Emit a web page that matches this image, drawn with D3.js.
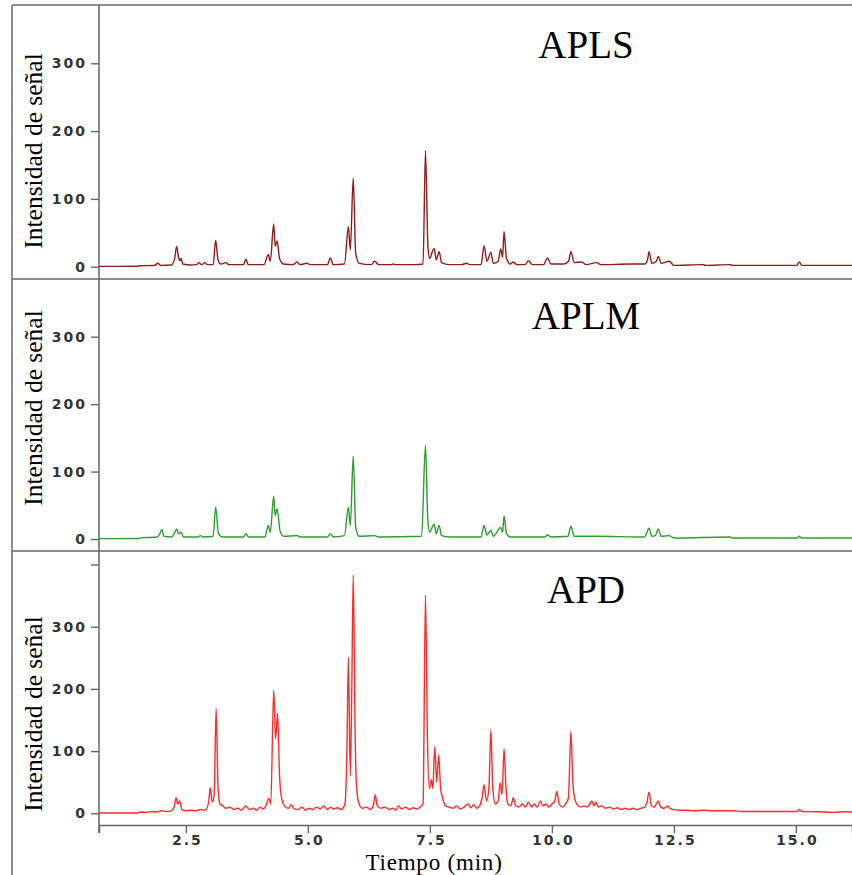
<!DOCTYPE html>
<html>
<head>
<meta charset="utf-8">
<script src="https://cdn.jsdelivr.net/npm/d3@7"></script>
<style>
  html, body { margin: 0; padding: 0; background: #fff; }
  svg { display: block; }
  .tick text { font-family: "DejaVu Sans", sans-serif; font-weight: bold; font-size: 14px; fill: #333; letter-spacing: 2px; }
  .tick line { stroke: #666; stroke-width: 1.4; }
</style>
</head>
<body>
<svg id="chart" width="852" height="875"></svg>
<script>
// Retention-time ticks (min) and intensity ticks
const timeTicks = [2.5, 5.0, 7.5, 10.0, 12.5, 15.0];
const intensityTicks = [0, 100, 200, 300];
const intensityTicksApd = [0, 100, 200, 300, 400];
const sampleNames = ["APLS", "APLM", "APD"];

// Chromatogram traces: [time (min), signal intensity]
const aplsTrace = [
  [0.72,0.5],[1.50,0.6],[1.56,1.5],[1.85,1.8],[1.93,5],[1.98,2],[2.20,2.5],[2.27,12],[2.31,30],[2.35,14],
  [2.38,9],[2.40,12],[2.44,4],[2.60,2.5],[2.72,3],[2.77,6],[2.82,3],[2.89,6],[2.94,3],[3.06,3],
  [3.11,39],[3.16,10],[3.22,4],[3.32,6],[3.38,3],[3.68,3],[3.73,11],[3.78,3],[4.10,3],[4.19,18],
  [4.23,8],[4.30,63],[4.33,30],[4.37,38],[4.42,12],[4.50,4],[4.70,3],[4.78,7],[4.84,3],[4.98,5],
  [5.05,3],[5.40,3],[5.46,13],[5.52,3],[5.75,4],[5.83,59],[5.87,25],[5.93,131],[5.98,20],[6.05,5],
  [6.30,3],[6.37,8],[6.45,3],[6.70,3],[6.75,4],[6.80,3],[7.00,3],[7.20,3],[7.36,4],[7.41,171],
  [7.46,30],[7.50,12],[7.54,20],[7.59,27],[7.63,10],[7.69,22],[7.74,6],[7.90,3],[8.15,3],[8.25,5],
  [8.32,3],[8.55,3],[8.61,31],[8.67,8],[8.75,21],[8.80,5],[8.90,8],[8.95,26],[8.99,14],[9.02,52],
  [9.07,12],[9.15,4],[9.21,7],[9.28,3],[9.45,3],[9.52,9],[9.60,3],[9.83,3],[9.91,13],[9.98,4],
  [10.25,4],[10.34,8],[10.39,22],[10.46,6],[10.61,7],[10.70,3],[10.92,6],[11.00,3],[11.60,4],[11.90,4],
  [11.96,10],[11.99,22],[12.05,5],[12.14,8],[12.18,15],[12.24,5],[12.40,8],[12.50,2],[13.10,3],[13.15,2],
  [13.65,3],[13.70,2],[14.90,2],[15.02,2],[15.07,7],[15.12,2],[16.15,2]
];

const aplmTrace = [
  [0.72,0.5],[1.55,0.8],[1.60,2],[1.90,2.5],[1.96,7],[2.01,14],[2.05,4],[2.20,3],[2.27,9],[2.31,15],
  [2.35,8],[2.40,10],[2.45,3],[2.75,3],[2.80,5],[2.85,3],[3.06,4],[3.11,47],[3.17,8],[3.25,3],
  [3.68,3],[3.73,8],[3.78,3],[4.12,3],[4.19,20],[4.23,10],[4.30,64],[4.33,35],[4.37,45],[4.43,12],
  [4.50,4],[4.78,5],[4.85,3],[5.40,3],[5.46,8],[5.52,3],[5.75,5],[5.83,47],[5.87,20],[5.93,123],
  [5.98,18],[6.05,4],[6.37,5],[6.45,3],[7.33,4],[7.41,139],[7.46,25],[7.50,10],[7.55,18],[7.59,22],
  [7.63,8],[7.69,20],[7.74,5],[7.90,3],[8.55,3],[8.61,20],[8.67,6],[8.75,13],[8.80,4],[8.95,17],
  [8.99,10],[9.02,34],[9.07,8],[9.15,3],[9.85,3],[9.91,6],[9.98,3],[10.33,4],[10.39,19],[10.46,4],
  [10.90,4],[11.90,3],[11.99,16],[12.05,4],[12.12,5],[12.18,15],[12.24,4],[12.40,5],[12.50,1.5],[13.65,3],
  [13.70,1.5],[15.02,1.5],[15.07,4],[15.12,1.5],[16.15,1.5]
];

const apdTrace = [
  [0.72,0.5],[1.50,0.5],[1.56,2],[1.70,1.5],[1.80,3],[1.90,2],[2.00,4],[2.10,3],[2.20,4],[2.26,10],
  [2.30,25],[2.33,15],[2.37,20],[2.42,6],[2.50,4],[2.60,5],[2.70,4],[2.80,6],[2.90,5],[2.97,20],
  [3.00,41],[3.04,18],[3.08,30],[3.12,168],[3.16,40],[3.20,15],[3.26,12],[3.32,8],[3.40,10],[3.48,6],
  [3.56,8],[3.64,5],[3.73,12],[3.80,6],[3.88,8],[3.95,5],[4.02,10],[4.08,7],[4.14,12],[4.20,24],
  [4.24,15],[4.30,198],[4.34,120],[4.38,161],[4.42,60],[4.46,25],[4.52,12],[4.60,8],[4.66,14],[4.72,7],
  [4.80,6],[4.88,10],[4.95,5],[5.02,8],[5.10,6],[5.18,10],[5.25,7],[5.32,12],[5.40,6],[5.46,10],
  [5.52,7],[5.60,9],[5.68,6],[5.76,15],[5.80,100],[5.83,251],[5.87,60],[5.90,200],[5.93,383],[5.97,120],
  [6.00,40],[6.05,15],[6.12,8],[6.20,10],[6.28,6],[6.34,12],[6.38,30],[6.42,12],[6.50,8],[6.58,10],
  [6.66,6],[6.74,8],[6.80,5],[6.86,12],[6.92,7],[7.00,10],[7.08,6],[7.16,9],[7.24,7],[7.30,10],
  [7.36,15],[7.41,351],[7.45,120],[7.49,40],[7.53,54],[7.56,40],[7.60,107],[7.64,50],[7.68,94],[7.72,40],
  [7.76,25],[7.82,12],[7.90,10],[7.98,8],[8.05,12],[8.12,7],[8.20,10],[8.28,15],[8.34,9],[8.40,14],
  [8.46,8],[8.52,12],[8.57,25],[8.61,46],[8.66,20],[8.71,40],[8.75,134],[8.79,40],[8.84,15],[8.90,20],
  [8.94,49],[8.98,30],[9.02,104],[9.06,40],[9.10,15],[9.16,12],[9.21,25],[9.26,12],[9.32,10],[9.40,15],
  [9.46,10],[9.52,18],[9.58,10],[9.64,15],[9.70,10],[9.76,20],[9.82,12],[9.88,15],[9.94,10],[10.00,15],
  [10.06,20],[10.10,35],[10.15,15],[10.22,10],[10.28,15],[10.34,25],[10.39,132],[10.43,50],[10.48,20],[10.54,12],
  [10.60,10],[10.66,12],[10.72,10],[10.78,15],[10.82,20],[10.86,12],[10.90,18],[10.95,10],[11.02,12],[11.10,8],
  [11.18,10],[11.26,7],[11.34,9],[11.42,6],[11.50,8],[11.58,6],[11.66,8],[11.74,6],[11.82,8],[11.90,10],
  [11.95,18],[11.99,34],[12.04,12],[12.10,10],[12.14,15],[12.18,20],[12.23,10],[12.30,8],[12.38,12],[12.42,8],
  [12.50,6],[12.60,5],[12.75,5],[12.90,4],[13.10,5],[13.30,4],[13.50,4],[13.70,4],[13.90,3],[14.10,3],
  [14.30,3],[14.50,3],[14.70,3],[14.90,3],[15.02,3],[15.07,6],[15.12,3],[15.40,2.5],[15.60,2],[15.80,1.5],
  [16.00,2.5],[16.15,2]
];

const svg = d3.select("#chart");
const frameColor = "#666";

// Shared retention-time axis
const x = d3.scaleLinear().domain([0.72, 16.15]).range([99, 852]);

// Stacked panels: top/bottom edges and intensity scale placement
const panels = [
  { name: sampleNames[0], trace: aplsTrace, color: "#8e1c1c", y0: 266.7, y300: 63.3, ticks: intensityTicks,
    top: 5, bottom: 279, titleY: 58, labelY: 151 },
  { name: sampleNames[1], trace: aplmTrace, color: "#2f9a2f", y0: 539, y300: 336.7, ticks: intensityTicks,
    top: 279, bottom: 551, titleY: 329, labelY: 408 },
  { name: sampleNames[2], trace: apdTrace, color: "#ff2a2a", y0: 813.3, y300: 626.7, ticks: intensityTicksApd,
    top: 551, bottom: 825, titleY: 603, labelY: 714 }
];

panels.forEach((p, i) => {
  const y = d3.scaleLinear().domain([0, 300]).range([p.y0, p.y300]);

  const clipId = "clip" + i;
  svg.append("clipPath").attr("id", clipId)
    .append("rect").attr("x", 99).attr("y", p.top).attr("width", 753).attr("height", p.bottom - p.top);

  // Intensity axis (the vertical spine is drawn once for all panels)
  const yAxis = d3.axisLeft(y).tickValues(p.ticks).tickSize(8).tickPadding(6)
    .tickFormat(d => d === 400 ? "" : d3.format("d")(d));
  const g = svg.append("g").attr("transform", "translate(99,0)").call(yAxis);
  g.select(".domain").remove();
  g.selectAll(".tick text").attr("dx", "2px");

  // Signal trace
  const line = d3.line().x(d => x(d[0])).y(d => y(d[1])).curve(d3.curveMonotoneX);
  svg.append("path")
    .datum(p.trace)
    .attr("clip-path", `url(#${clipId})`)
    .attr("fill", "none")
    .attr("stroke", p.color)
    .attr("stroke-width", 1.4)
    .attr("stroke-linejoin", "round")
    .attr("d", line);

  // Sample name
  svg.append("text")
    .attr("x", 586).attr("y", p.titleY)
    .attr("text-anchor", "middle")
    .attr("font-family", "'Liberation Serif', 'Times New Roman', serif")
    .attr("font-size", 39)
    .attr("fill", "#000")
    .text(p.name);

  // Intensity title
  svg.append("text")
    .attr("transform", `translate(41.5,${p.labelY}) rotate(-90)`)
    .attr("text-anchor", "middle")
    .attr("font-family", "'Liberation Serif', 'Times New Roman', serif")
    .attr("font-size", 25.5)
    .attr("fill", "#000")
    .text("Intensidad de señal");
});

// Frame: outer left/top edges and panel separators
svg.append("line").attr("x1", 12).attr("x2", 12).attr("y1", 5).attr("y2", 875)
  .attr("stroke", frameColor).attr("stroke-width", 1.5);
[5, 279, 551].forEach(yy => {
  svg.append("line").attr("x1", 12).attr("x2", 852).attr("y1", yy).attr("y2", yy)
    .attr("stroke", frameColor).attr("stroke-width", 1.5);
});
// Shared vertical spine
svg.append("line").attr("x1", 99).attr("x2", 99).attr("y1", 5).attr("y2", 833)
  .attr("stroke", frameColor).attr("stroke-width", 1.5);

// Time axis
const xAxis = d3.axisBottom(x).tickValues(timeTicks).tickSize(8).tickSizeOuter(8).tickPadding(2)
  .tickFormat(d3.format(".1f"));
const gx = svg.append("g").attr("transform", "translate(0,825)").call(xAxis);
gx.select(".domain").attr("stroke", frameColor).attr("stroke-width", 1.5);
gx.selectAll(".tick text").attr("dx", "1px");

svg.append("text")
  .attr("x", 434).attr("y", 869.5)
  .attr("text-anchor", "middle")
  .attr("font-family", "'Liberation Serif', 'Times New Roman', serif")
  .attr("font-size", 23)
  .attr("letter-spacing", "0.8px")
  .attr("fill", "#000")
  .text("Tiempo (min)");
</script>
</body>
</html>
